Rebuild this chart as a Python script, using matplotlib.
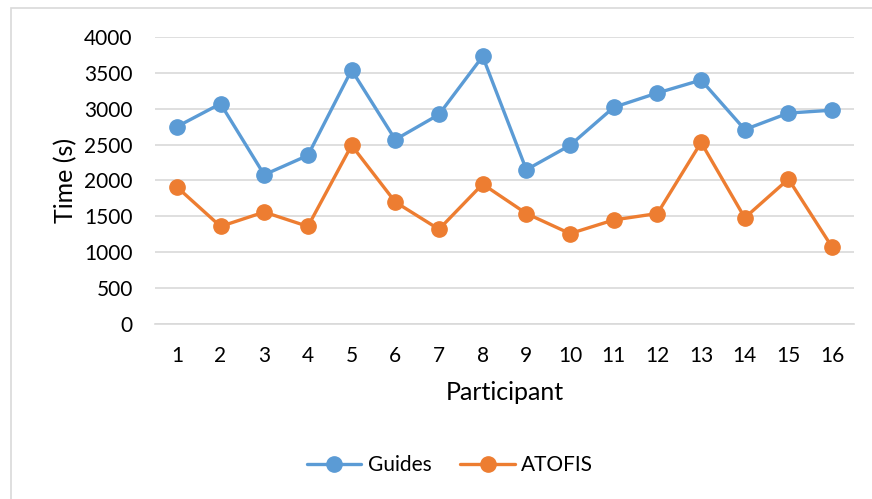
import matplotlib.pyplot as plt
from matplotlib.patches import Rectangle

# completion time per participant, in seconds
participants = [str(i) for i in range(1, 17)]
guides = [2750, 3070, 2080, 2350, 3540, 2570, 2920, 3730,
          2150, 2490, 3020, 3220, 3400, 2710, 2940, 2980]
atofis = [1910, 1360, 1560, 1360, 2490, 1700, 1320, 1950,
          1540, 1260, 1450, 1540, 2530, 1480, 2020, 1070]
yticks = [0, 500, 1000, 1500, 2000, 2500, 3000, 3500, 4000]

plt.rcParams['font.family'] = ['Lato', 'DejaVu Sans']
plt.rcParams['font.size'] = 15

W, H = 872, 499
fig = plt.figure(figsize=(W / 100, H / 100), dpi=100)
ax = fig.add_axes([155 / W, 1 - 324 / H, 699 / W, 287 / H])

x = range(len(participants))
ax.plot(x, guides, color='#5B9BD5', lw=2.4, marker='o', ms=11,
        label='Guides', solid_capstyle='round', clip_on=False, zorder=3)
ax.plot(x, atofis, color='#ED7D31', lw=2.4, marker='o', ms=11,
        label='ATOFIS', solid_capstyle='round', clip_on=False, zorder=3)

ax.set_xlim(-0.5, len(participants) - 0.5)
ax.set_ylim(0, 4000)
ax.set_xticks(list(x))
ax.set_xticklabels(participants)
ax.set_yticks(yticks)
ax.tick_params(length=0, colors='black')
ax.tick_params(axis='y', pad=16)
ax.tick_params(axis='x', pad=16)
ax.grid(axis='y', color='#D9D9D9', lw=1.2)
ax.set_axisbelow(True)
for s in ['top', 'right', 'left']:
    ax.spines[s].set_visible(False)
ax.spines['bottom'].set_color('#D9D9D9')
ax.spines['bottom'].set_linewidth(1.2)

ax.set_ylabel('Time (s)', fontsize=18)
ax.yaxis.set_label_coords((66 - 155) / 699, 0.5)
ax.set_xlabel('Participant', fontsize=18)
ax.xaxis.set_label_coords(0.5007, (324 - 393) / 287)
ax.xaxis.label.set_va('center')
ax.yaxis.label.set_va('center')

fig.legend(loc='center', bbox_to_anchor=(450 / W, 1 - 465 / H), ncol=2,
           frameon=False, handlelength=2.6, handletextpad=0.3,
           columnspacing=1.4)

# outer chart frame
fig.patches.append(Rectangle((11 / W, -0.1), 1.2, 1 - 8 / H + 0.1,
                             transform=fig.transFigure, fill=False,
                             edgecolor='#D9D9D9', lw=1.2))

fig.savefig('out.png', dpi=100)
